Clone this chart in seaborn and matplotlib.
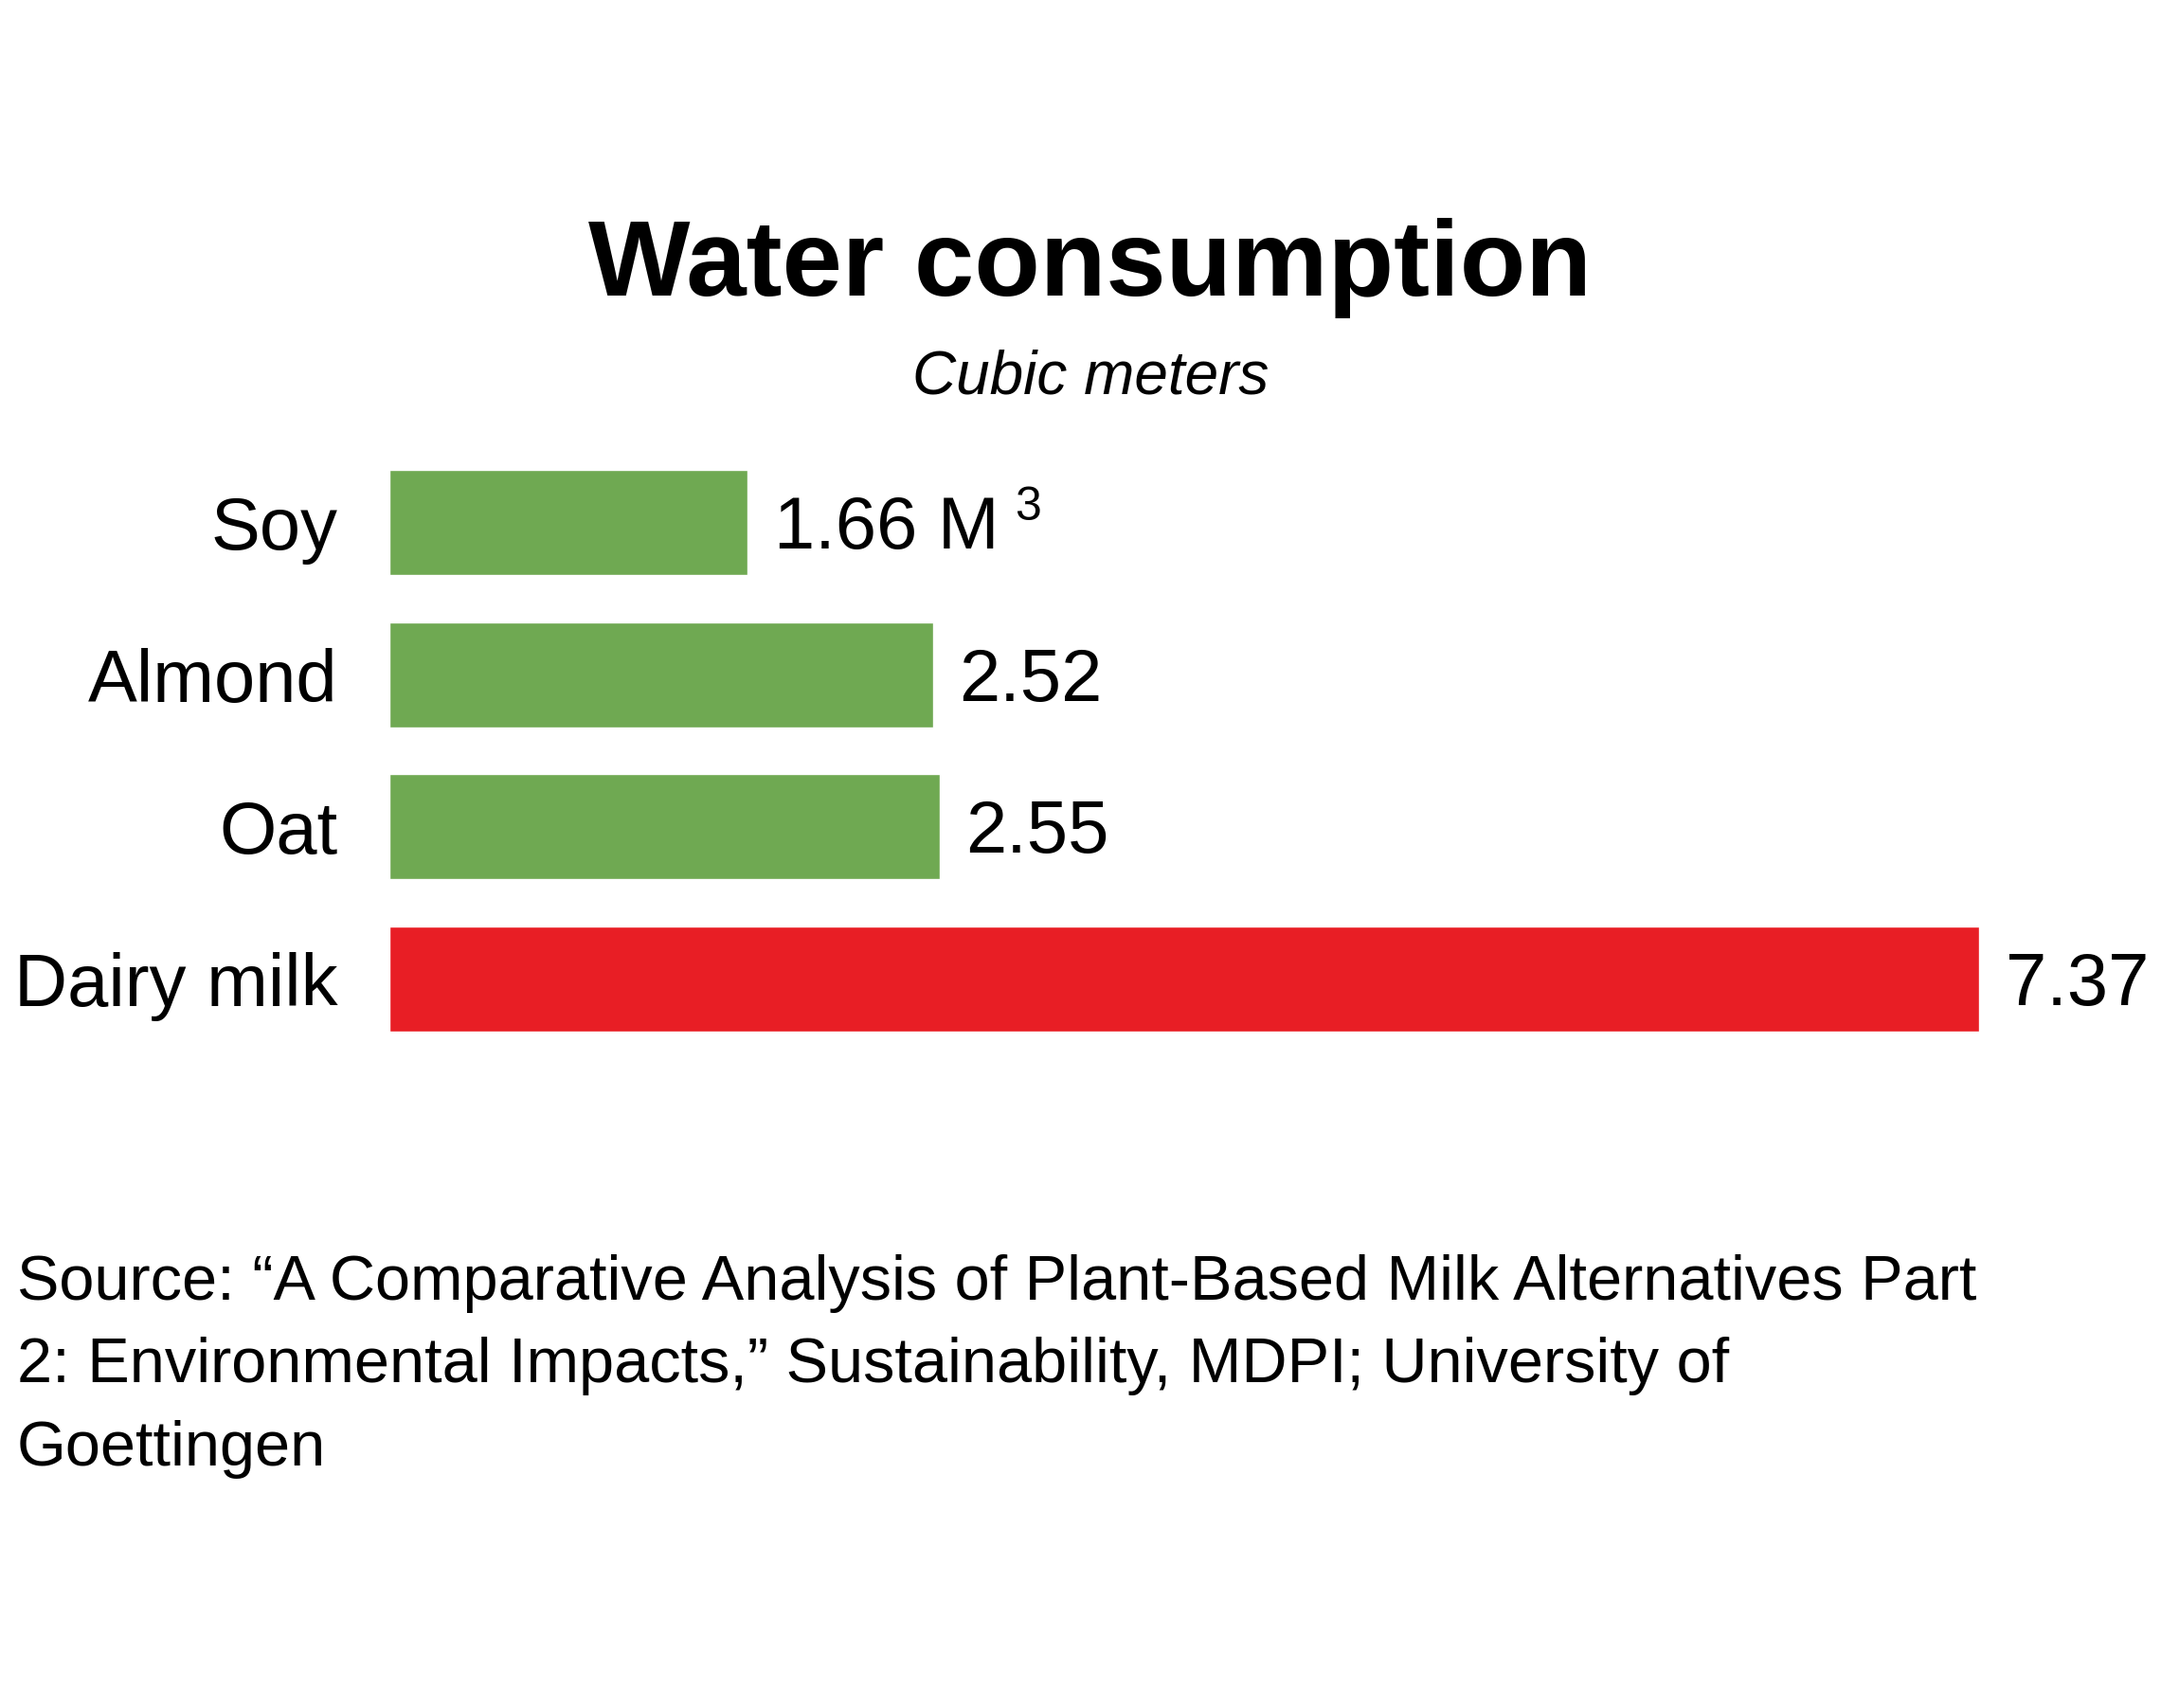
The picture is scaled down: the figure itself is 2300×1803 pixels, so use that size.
import matplotlib
matplotlib.use("Agg")
import matplotlib.pyplot as plt
import seaborn as sns

# values
categories = ["Soy", "Almond", "Oat", "Dairy milk"]
water_m3 = [1.66, 2.52, 2.55, 7.37]
value_labels = ["1.66 M", "2.52", "2.55", "7.37"]
bar_colors = ["#6fa952", "#6fa952", "#6fa952", "#e81e25"]

title = "Water consumption"
subtitle = "Cubic meters"
source = ("Source: \u201cA Comparative Analysis of Plant-Based Milk Alternatives Part\n"
          "2: Environmental Impacts,\u201d Sustainability, MDPI; University of\n"
          "Goettingen")

sns.set_style("white")
plt.rcParams["font.family"] = ["Liberation Sans", "DejaVu Sans"]
plt.rcParams["text.color"] = "black"
plt.rcParams["ytick.color"] = "black"
plt.rcParams["ytick.labelcolor"] = "black"

fig = plt.figure(figsize=(23, 18.03), dpi=100)
ax = fig.add_axes([0.1787, 0.3821, 0.7296, 0.3567])

sns.barplot(x=water_m3, y=categories, hue=categories, palette=bar_colors,
            legend=False, width=0.69, saturation=1, ax=ax)

ax.set_xlim(0, 7.37)
ax.set_ylim(3.5, -0.5)
ax.set_xticks([])
ax.set_xlabel("")
ax.set_ylabel("")
ax.tick_params(axis="y", length=0, pad=39, labelsize=56, labelcolor="black")
sns.despine(ax=ax, left=True, bottom=True)

# value labels at the end of each bar
anns = []
for cont, lbl in zip(ax.containers, value_labels):
    bar = cont[0]
    anns.append(ax.annotate(lbl, xy=(bar.get_width(), bar.get_y() + bar.get_height() / 2),
                            xytext=(20, -5), textcoords="offset points",
                            ha="left", va="center", fontsize=56, color="black",
                            annotation_clip=False))

# superscript 3 after "1.66 M"
ax.annotate("3", xy=(1, 1), xycoords=anns[0], xytext=(12, 6),
            textcoords="offset points", fontsize=36, ha="left", va="top",
            color="black", annotation_clip=False)

fig.text(0.5004, 0.827, title, ha="center", va="baseline",
         fontsize=82, fontweight="bold")
fig.text(0.5004, 0.7698, subtitle, ha="center", va="baseline",
         fontsize=46, style="italic")
fig.text(0.0078, 0.2657, source, ha="left", va="top", fontsize=48,
         linespacing=1.53)

fig.savefig("out.png", dpi=100, facecolor="white")
